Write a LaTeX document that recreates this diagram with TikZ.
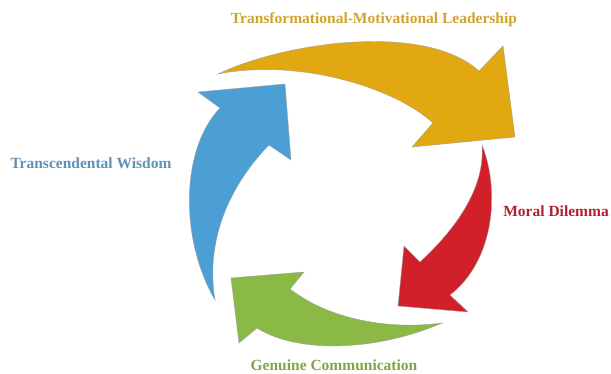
\documentclass[tikz,border=0pt]{standalone}
\usepackage{fontspec}
\setmainfont{Liberation Serif}
\usepackage{tikz}
\usetikzlibrary{positioning,calc}

\definecolor{cycYellow}{RGB}{226,168,17}
\definecolor{cycBlue}{RGB}{75,159,213}
\definecolor{cycRed}{RGB}{210,32,42}
\definecolor{cycGreen}{RGB}{139,185,70}
\definecolor{txtYellow}{RGB}{208,163,48}
\definecolor{txtBlue}{RGB}{92,146,182}
\definecolor{txtRed}{RGB}{178,32,46}
\definecolor{txtGreen}{RGB}{128,166,66}

\begin{document}
\begin{tikzpicture}[x=1pt,y=-1pt,every text node part/.style={align=center}]
\tikzset{myFont/.style={font=\fontsize{15.5}{17}\selectfont\bfseries}}
\tikzset{myArrow/.style={draw=gray!75,line width=0.4pt,line join=miter}}
\tikzset{myLabel/.style={myFont,inner sep=0pt}}

\useasboundingbox (0,0) rectangle (611,373);

% yellow arrow
\filldraw[myArrow,fill=cycYellow] (218,74) .. controls (285,42) and (425,22) .. (479,71)
  -- (503,46) -- (515,137) -- (412,147) -- (433,123)
  .. controls (395,88) and (300,58) .. (218,74) -- cycle;
% red arrow
\filldraw[myArrow,fill=cycRed] (482,145) .. controls (500,190) and (495,260) .. (450,295)
  -- (468,312) -- (398,306) -- (404,246) -- (420,262)
  .. controls (460,225) and (485,185) .. (482,145) -- cycle;
% green arrow
\filldraw[myArrow,fill=cycGreen] (442,323) .. controls (380,350) and (300,355) .. (257,328)
  -- (239,343) -- (231,278) -- (304,272) -- (290,289)
  .. controls (330,320) and (390,330) .. (442,323) -- cycle;
% blue arrow
\filldraw[myArrow,fill=cycBlue] (215,300) .. controls (180,240) and (180,150) .. (220,108)
  -- (198,92) -- (285,84) -- (291,160) -- (269,145)
  .. controls (230,185) and (205,240) .. (215,300) -- cycle;

\node[myLabel,text=txtYellow] (leadership) at (374,20) {Transformational-Motivational Leadership};
\node[myLabel,text=txtRed,anchor=east] (dilemma) at (609,211) {Moral Dilemma};
\node[myLabel,text=txtGreen] (communication) at (334,365) {Genuine Communication};
\node[myLabel,text=txtBlue] (wisdom) at (91,163) {Transcendental Wisdom};

\end{tikzpicture}
\end{document}
